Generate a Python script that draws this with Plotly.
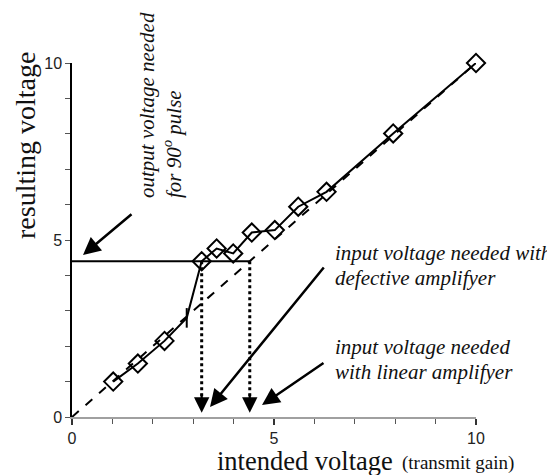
import plotly.graph_objects as go

# ---- data ----
intended = [1.02, 1.63, 2.29, 2.84, 3.21, 3.58, 3.99, 4.45, 5.02, 5.60, 6.30, 7.95, 10.0]
resulting = [1.00, 1.51, 2.15, 2.80, 4.40, 4.76, 4.62, 5.21, 5.28, 5.94, 6.36, 8.01, 10.0]
symbols = ["diamond-open"] * 3 + ["line-ns"] + ["diamond-open"] * 9
linear_x = [0, 10]
linear_y = [0, 10]
needed_output = 4.4
needed_input_defective = 3.21
needed_input_linear = 4.4
x_ticks = [0, 5, 10]
y_ticks = [0, 5, 10]

W, H = 555, 475
# page has an 8px body margin; plot area on the page spans x 72..476, y 63..417
L, T = 64, 55
PW, PH = 404, 354
R, B = W - L - PW, H - T - PH


def px(xp):  # page pixel -> plot-domain fraction
    return (xp - 72) / PW


def py(yp):
    return (417 - yp) / PH


SERIF = "Liberation Serif"
SANS = "Liberation Sans, Arial, sans-serif"
ITAL = dict(family="Liberation Serif", size=21, color="#111", style="italic")

fig = go.Figure()

# linear amplifier reference (dashed)
fig.add_trace(go.Scatter(x=linear_x, y=linear_y, mode="lines",
                         line=dict(color="black", width=2, dash="dash"),
                         hoverinfo="skip", showlegend=False))

# horizontal line at needed output
fig.add_trace(go.Scatter(x=[0, needed_input_linear], y=[needed_output, needed_output],
                         mode="lines", line=dict(color="black", width=2),
                         showlegend=False, hoverinfo="skip"))

# dotted vertical drops
for xv in [needed_input_defective, needed_input_linear]:
    fig.add_trace(go.Scatter(x=[xv, xv], y=[needed_output, 0.35], mode="lines",
                             line=dict(color="black", width=3, dash="dot"),
                             showlegend=False, hoverinfo="skip"))

# measured (defective amplifier)
fig.add_trace(go.Scatter(x=intended, y=resulting, mode="lines+markers",
                         line=dict(color="black", width=2),
                         marker=dict(symbol=symbols, size=14, color="black",
                                     line=dict(color="black", width=2)),
                         showlegend=False, cliponaxis=False))

annotations = []
# arrowheads for dotted drops
for xv in [needed_input_defective, needed_input_linear]:
    annotations.append(dict(x=xv, y=0.12, ax=xv, ay=0.7, xref="x", yref="y",
                            axref="x", ayref="y", showarrow=True, arrowhead=2,
                            arrowsize=1.4, arrowwidth=2.2, arrowcolor="black", text=""))

# solid pointer arrows (tail -> tip in page pixels)
for (tx, ty, hx, hy) in [(133, 213, 83, 255), (325, 266, 210, 407), (325, 362, 262, 405)]:
    annotations.append(dict(x=px(hx), y=py(hy), ax=px(tx), ay=py(ty),
                            xref="x domain", yref="y domain", axref="x domain", ayref="y domain",
                            showarrow=True, arrowhead=2, arrowsize=1.4, arrowwidth=2.5,
                            arrowcolor="black", text=""))


def label(text, x, y, xanchor="left", yanchor="middle", font=ITAL, angle=0):
    return dict(x=px(x), y=py(y), xref="paper", yref="paper", xanchor=xanchor,
                yanchor=yanchor, text=text, textangle=angle, showarrow=False, font=font)


annotations += [
    label("resulting voltage", 25, 146, "center", "middle",
          dict(family=SERIF, size=28, color="#111"), -90),
    label("intended voltage", 215, 461, "left", "middle",
          dict(family=SERIF, size=26.5, color="#111")),
    label("(transmit gain)", 400, 463, "left", "middle",
          dict(family=SERIF, size=19, color="#111")),
    label("output voltage needed", 147, 200, "center", "bottom", ITAL, -90),
    label("for 90<sup>o</sup> pulse", 172, 200, "center", "bottom", ITAL, -90),
    label("input voltage needed with", 333, 253),
    label("defective amplifyer", 333, 278),
    label("input voltage needed", 333, 347),
    label("with linear amplifyer", 333, 372),
]

fig.update_layout(
    width=W, height=H,
    margin=dict(l=L, r=R, t=T, b=B, autoexpand=False),
    paper_bgcolor="white", plot_bgcolor="white",
    showlegend=False,
    annotations=annotations,
    xaxis=dict(range=[0, 10], tickvals=x_ticks, ticktext=[str(v) for v in x_ticks],
               showgrid=False, zeroline=False, showline=True, linecolor="#a0a0a0", linewidth=2,
               ticks="outside", ticklen=6, tickwidth=1.5, tickcolor="#333",
               minor=dict(dtick=1, ticks="outside", ticklen=5, tickcolor="#555", tickwidth=1, showgrid=False),
               tickfont=dict(family=SANS, size=16, color="#222")),
    yaxis=dict(range=[0, 10], tickvals=y_ticks, ticktext=[str(v) for v in y_ticks],
               showgrid=False, zeroline=False, showline=True, linecolor="black", linewidth=1.5,
               ticks="outside", ticklen=5, tickwidth=1, tickcolor="#555",
               minor=dict(dtick=1, ticks="outside", ticklen=5, tickcolor="#555", tickwidth=1, showgrid=False),
               tickfont=dict(family=SANS, size=16, color="#222")),
)

fig.write_html("out.html")
